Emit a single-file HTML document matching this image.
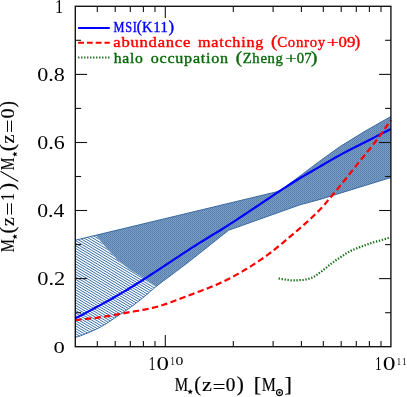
<!DOCTYPE html>
<html><head><meta charset="utf-8"><title>chart</title>
<style>html,body{margin:0;padding:0;background:#fff;}svg{display:block;will-change:transform;}</style></head>
<body><svg width="407" height="397" viewBox="0 0 407 397">
<defs>
<pattern id="d" width="2" height="2" patternUnits="userSpaceOnUse">
<rect width="2" height="2" fill="#557eae"/>
<rect x="1" y="1" width="1" height="1" fill="#6188b5"/>
<rect x="1" y="0" width="1" height="1" fill="#7fa0c5"/>
<rect x="0" y="1" width="1" height="1" fill="#7497bf"/>
</pattern>
</defs>
<rect width="407" height="397" fill="#fff"/>
<clipPath id="hc"><polygon points="75.3,240.2 95.6,235.3 107.2,248.9 117.5,260.1 129.6,269.6 141.6,276.8 155.8,286.8 155.8,286.8 153.2,289.0 150.6,291.2 148.0,293.4 145.4,295.6 142.8,297.8 140.2,300.0 137.6,302.0 135.0,304.0 132.4,305.9 129.8,307.8 127.2,309.6 124.6,311.3 122.0,313.1 119.4,314.8 116.8,316.6 114.2,318.3 111.7,320.1 109.1,321.8 106.5,323.5 103.9,325.1 101.3,326.6 98.7,328.0 96.1,329.2 93.5,330.5 90.9,331.6 88.3,332.8 85.7,333.8 83.1,334.8 80.5,335.8 77.9,336.6 75.3,337.4"/></clipPath>
<path d="M75.3 150.00 L175.0 209.82 M75.3 152.59 L175.0 212.41 M75.3 155.17 L175.0 214.99 M75.3 157.76 L175.0 217.58 M75.3 160.34 L175.0 220.16 M75.3 162.93 L175.0 222.75 M75.3 165.51 L175.0 225.33 M75.3 168.10 L175.0 227.92 M75.3 170.68 L175.0 230.50 M75.3 173.27 L175.0 233.09 M75.3 175.85 L175.0 235.67 M75.3 178.44 L175.0 238.26 M75.3 181.02 L175.0 240.84 M75.3 183.61 L175.0 243.43 M75.3 186.19 L175.0 246.01 M75.3 188.78 L175.0 248.60 M75.3 191.36 L175.0 251.18 M75.3 193.95 L175.0 253.77 M75.3 196.53 L175.0 256.35 M75.3 199.12 L175.0 258.94 M75.3 201.70 L175.0 261.52 M75.3 204.29 L175.0 264.11 M75.3 206.87 L175.0 266.69 M75.3 209.46 L175.0 269.28 M75.3 212.04 L175.0 271.86 M75.3 214.63 L175.0 274.45 M75.3 217.21 L175.0 277.03 M75.3 219.80 L175.0 279.62 M75.3 222.38 L175.0 282.20 M75.3 224.97 L175.0 284.79 M75.3 227.55 L175.0 287.37 M75.3 230.14 L175.0 289.96 M75.3 232.72 L175.0 292.54 M75.3 235.31 L175.0 295.13 M75.3 237.89 L175.0 297.71 M75.3 240.48 L175.0 300.30 M75.3 243.06 L175.0 302.88 M75.3 245.65 L175.0 305.47 M75.3 248.23 L175.0 308.05 M75.3 250.82 L175.0 310.64 M75.3 253.40 L175.0 313.22 M75.3 255.99 L175.0 315.81 M75.3 258.57 L175.0 318.39 M75.3 261.16 L175.0 320.98 M75.3 263.74 L175.0 323.56 M75.3 266.33 L175.0 326.15 M75.3 268.91 L175.0 328.73 M75.3 271.50 L175.0 331.32 M75.3 274.08 L175.0 333.90 M75.3 276.67 L175.0 336.49 M75.3 279.25 L175.0 339.07 M75.3 281.84 L175.0 341.66 M75.3 284.42 L175.0 344.24 M75.3 287.01 L175.0 346.83 M75.3 289.59 L175.0 349.41 M75.3 292.18 L175.0 352.00 M75.3 294.76 L175.0 354.58 M75.3 297.35 L175.0 357.17 M75.3 299.93 L175.0 359.75 M75.3 302.51 L175.0 362.33 M75.3 305.10 L175.0 364.92 M75.3 307.68 L175.0 367.50 M75.3 310.27 L175.0 370.09 M75.3 312.85 L175.0 372.67 M75.3 315.44 L175.0 375.26 M75.3 318.02 L175.0 377.84 M75.3 320.61 L175.0 380.43 M75.3 323.19 L175.0 383.01 M75.3 325.78 L175.0 385.60 M75.3 328.36 L175.0 388.18 M75.3 330.95 L175.0 390.77 M75.3 333.53 L175.0 393.35 M75.3 336.12 L175.0 395.94 M75.3 338.70 L175.0 398.52 M75.3 341.29 L175.0 401.11 M75.3 343.87 L175.0 403.69" clip-path="url(#hc)" stroke="#386fab" stroke-width="1.0" fill="none"/>
<polygon points="155.8,286.8 141.6,276.8 129.6,269.6 117.5,260.1 107.2,248.9 95.6,235.3 279.2,191.2 300.0,176.0 320.0,160.9 340.0,146.6 365.0,131.2 390.9,116.5 390.9,177.5 320.0,199.4 300.0,204.8 228.5,230.3 225.9,232.4 223.3,234.5 220.7,236.5 218.1,238.6 215.5,240.7 212.9,242.7 210.3,244.8 207.7,246.9 205.1,248.9 202.5,251.0 199.9,253.0 197.3,255.1 194.7,257.2 192.1,259.2 189.6,261.2 187.0,263.2 184.4,265.2 181.8,267.1 179.2,269.1 176.6,271.0 174.0,273.0 171.4,274.9 168.8,276.9 166.2,278.8 163.6,280.7 161.0,282.7 158.4,284.7" fill="url(#d)"/>
<path d="M75.3 240.2 L279.2 191.2 L300.0 176.0 L320.0 160.9 L340.0 146.6 L365.0 131.2 L390.9 116.5 M75.3 337.4 L77.9 336.6 L80.5 335.8 L83.1 334.8 L85.7 333.8 L88.3 332.8 L90.9 331.6 L93.5 330.5 L96.1 329.2 L98.7 328.0 L101.3 326.6 L103.9 325.1 L106.5 323.5 L109.1 321.8 L111.7 320.1 L114.2 318.3 L116.8 316.6 L119.4 314.8 L122.0 313.1 L124.6 311.3 L127.2 309.6 L129.8 307.8 L132.4 305.9 L135.0 304.0 L137.6 302.0 L140.2 300.0 L142.8 297.8 L145.4 295.6 L148.0 293.4 L150.6 291.2 L153.2 289.0 L155.8 286.8 L158.4 284.7 L161.0 282.7 L163.6 280.7 L166.2 278.8 L168.8 276.9 L171.4 274.9 L174.0 273.0 L176.6 271.0 L179.2 269.1 L181.8 267.1 L184.4 265.2 L187.0 263.2 L189.6 261.2 L192.1 259.2 L194.7 257.2 L197.3 255.1 L199.9 253.0 L202.5 251.0 L205.1 248.9 L207.7 246.9 L210.3 244.8 L212.9 242.7 L215.5 240.7 L218.1 238.6 L220.7 236.5 L223.3 234.5 L225.9 232.4 L228.5 230.3 L300.0 204.8 L320.0 199.4 L390.9 177.5" fill="none" stroke="#3a6aa3" stroke-width="1"/>
<path d="M75.3 318.4 L79.3 316.3 L83.3 314.2 L87.3 312.1 L91.3 309.9 L95.3 307.8 L99.3 305.6 L103.3 303.4 L107.3 301.2 L111.3 299.0 L115.2 296.7 L119.2 294.4 L123.2 292.1 L127.2 289.7 L131.2 287.2 L135.2 284.7 L139.2 282.2 L143.2 279.7 L147.2 277.1 L151.2 274.5 L155.2 271.9 L159.2 269.3 L163.2 266.7 L167.2 264.0 L171.2 261.4 L175.2 258.7 L179.2 256.1 L183.2 253.4 L187.2 250.8 L191.2 248.2 L195.1 245.7 L199.1 243.1 L203.1 240.7 L207.1 238.2 L211.1 235.8 L215.1 233.4 L219.1 231.0 L223.1 228.5 L227.1 225.9 L231.1 223.4 L235.1 220.8 L239.1 218.1 L243.1 215.5 L247.1 212.8 L251.1 210.2 L255.1 207.5 L259.1 204.8 L263.1 202.1 L267.1 199.5 L271.1 196.8 L275.0 194.1 L279.0 191.5 L283.0 188.9 L287.0 186.3 L291.0 183.8 L295.0 181.3 L299.0 178.8 L303.0 176.4 L307.0 174.0 L311.0 171.7 L315.0 169.4 L319.0 167.1 L323.0 164.8 L327.0 162.4 L331.0 160.1 L335.0 157.8 L339.0 155.6 L343.0 153.4 L347.0 151.3 L351.0 149.3 L354.9 147.3 L358.9 145.3 L362.9 143.3 L366.9 141.2 L370.9 139.2 L374.9 137.1 L378.9 135.1 L382.9 133.1 L386.9 131.0 L390.9 129.0" fill="none" stroke="#0000ff" stroke-width="2.2"/>
<path d="M75.3 320.0 L78.0 319.8 L80.6 319.5 L83.3 319.3 L85.9 319.0 L88.6 318.7 L91.2 318.4 L93.9 318.1 L96.5 317.8 L99.2 317.4 L101.8 317.0 L104.5 316.7 L107.1 316.2 L109.8 315.8 L112.4 315.3 L115.1 314.8 L117.7 314.3 L120.4 313.8 L123.0 313.4 L125.7 312.9 L128.3 312.4 L131.0 311.9 L133.6 311.5 L136.3 311.0 L139.0 310.6 L141.6 310.1 L144.3 309.6 L146.9 309.1 L149.6 308.5 L152.2 307.9 L154.9 307.3 L157.5 306.6 L160.2 305.8 L162.8 305.0 L165.5 304.1 L168.1 303.2 L170.8 302.3 L173.4 301.3 L176.1 300.3 L178.7 299.3 L181.4 298.2 L184.0 297.2 L186.7 296.2 L189.3 295.2 L192.0 294.2 L194.6 293.2 L197.3 292.2 L199.9 291.2 L202.6 290.2 L205.3 289.2 L207.9 288.2 L210.6 287.1 L213.2 286.0 L215.9 284.9 L218.5 283.7 L221.2 282.5 L223.8 281.3 L226.5 280.0 L229.1 278.7 L231.8 277.3 L234.4 275.9 L237.1 274.4 L239.7 272.9 L242.4 271.4 L245.0 269.8 L247.7 268.2 L250.3 266.6 L253.0 264.9 L255.6 263.2 L258.3 261.4 L260.9 259.7 L263.6 257.8 L266.3 255.9 L268.9 253.9 L271.6 251.9 L274.2 249.8 L276.9 247.6 L279.5 245.5 L282.2 243.3 L284.8 241.1 L287.5 238.8 L290.1 236.6 L292.8 234.3 L295.4 232.1 L298.1 229.8 L300.7 227.6 L303.4 225.2 L306.0 222.9 L308.7 220.5 L311.3 218.0 L314.0 215.5 L316.6 212.9 L319.3 210.2 L321.9 207.5 L324.6 204.5 L327.2 201.4 L329.9 198.2 L332.6 195.0 L335.2 191.8 L337.9 188.6 L340.5 185.3 L343.2 182.0 L345.8 178.7 L348.5 175.4 L351.1 172.1 L353.8 168.7 L356.4 165.4 L359.1 162.0 L361.7 158.7 L364.4 155.5 L367.0 152.2 L369.7 149.0 L372.3 145.6 L375.0 142.2 L377.6 138.8 L380.3 135.2 L382.9 131.5 L385.6 127.7 L388.2 123.8 L390.9 119.8" fill="none" stroke="#ff0000" stroke-width="2.2" stroke-dasharray="6.3 3.4"/>
<path d="M278.6 278.5 L279.7 278.7 L280.9 278.9 L282.0 279.1 L283.1 279.3 L284.3 279.5 L285.4 279.6 L286.5 279.8 L287.6 279.9 L288.8 280.0 L289.9 280.2 L291.0 280.3 L292.2 280.3 L293.3 280.4 L294.4 280.4 L295.6 280.4 L296.7 280.3 L297.8 280.3 L298.9 280.2 L300.1 280.1 L301.2 280.1 L302.3 280.0 L303.5 279.9 L304.6 279.7 L305.7 279.5 L306.9 279.3 L308.0 279.0 L309.1 278.7 L310.2 278.4 L311.4 278.0 L312.5 277.5 L313.6 276.9 L314.8 276.2 L315.9 275.4 L317.0 274.6 L318.2 273.8 L319.3 273.0 L320.4 272.2 L321.6 271.4 L322.7 270.5 L323.8 269.6 L324.9 268.7 L326.1 267.8 L327.2 266.8 L328.3 265.9 L329.5 265.0 L330.6 264.1 L331.7 263.3 L332.9 262.4 L334.0 261.6 L335.1 260.8 L336.2 260.0 L337.4 259.2 L338.5 258.5 L339.6 257.7 L340.8 257.0 L341.9 256.2 L343.0 255.5 L344.2 254.7 L345.3 254.0 L346.4 253.3 L347.5 252.6 L348.7 252.0 L349.8 251.4 L350.9 250.8 L352.1 250.2 L353.2 249.7 L354.3 249.3 L355.5 248.8 L356.6 248.4 L357.7 247.9 L358.9 247.5 L360.0 247.1 L361.1 246.7 L362.2 246.3 L363.4 245.8 L364.5 245.4 L365.6 245.0 L366.8 244.6 L367.9 244.2 L369.0 243.8 L370.2 243.4 L371.3 243.0 L372.4 242.6 L373.5 242.3 L374.7 242.0 L375.8 241.7 L376.9 241.4 L378.1 241.1 L379.2 240.8 L380.3 240.4 L381.5 240.1 L382.6 239.8 L383.7 239.4 L384.8 239.1 L386.0 238.7 L387.1 238.3 L388.2 238.0 L389.4 237.6 L390.5 237.2" fill="none" stroke="#0a6a0a" stroke-width="2.2" stroke-dasharray="1.3 1.7"/>
<g stroke="#151515" stroke-width="1.1"><line x1="97.3" y1="346.7" x2="97.3" y2="340.9"/><line x1="97.3" y1="6.3" x2="97.3" y2="12.1"/><line x1="115.2" y1="346.7" x2="115.2" y2="340.9"/><line x1="115.2" y1="6.3" x2="115.2" y2="12.1"/><line x1="130.3" y1="346.7" x2="130.3" y2="340.9"/><line x1="130.3" y1="6.3" x2="130.3" y2="12.1"/><line x1="143.4" y1="346.7" x2="143.4" y2="340.9"/><line x1="143.4" y1="6.3" x2="143.4" y2="12.1"/><line x1="155.0" y1="346.7" x2="155.0" y2="340.9"/><line x1="155.0" y1="6.3" x2="155.0" y2="12.1"/><line x1="165.3" y1="346.7" x2="165.3" y2="334.9"/><line x1="165.3" y1="6.3" x2="165.3" y2="18.1"/><line x1="233.3" y1="346.7" x2="233.3" y2="340.9"/><line x1="233.3" y1="6.3" x2="233.3" y2="12.1"/><line x1="273.1" y1="346.7" x2="273.1" y2="340.9"/><line x1="273.1" y1="6.3" x2="273.1" y2="12.1"/><line x1="301.4" y1="346.7" x2="301.4" y2="340.9"/><line x1="301.4" y1="6.3" x2="301.4" y2="12.1"/><line x1="323.3" y1="346.7" x2="323.3" y2="340.9"/><line x1="323.3" y1="6.3" x2="323.3" y2="12.1"/><line x1="341.2" y1="346.7" x2="341.2" y2="340.9"/><line x1="341.2" y1="6.3" x2="341.2" y2="12.1"/><line x1="356.3" y1="346.7" x2="356.3" y2="340.9"/><line x1="356.3" y1="6.3" x2="356.3" y2="12.1"/><line x1="369.4" y1="346.7" x2="369.4" y2="340.9"/><line x1="369.4" y1="6.3" x2="369.4" y2="12.1"/><line x1="381.0" y1="346.7" x2="381.0" y2="340.9"/><line x1="381.0" y1="6.3" x2="381.0" y2="12.1"/><line x1="75.3" y1="312.7" x2="81.1" y2="312.7"/><line x1="390.9" y1="312.7" x2="385.1" y2="312.7"/><line x1="75.3" y1="278.6" x2="87.1" y2="278.6"/><line x1="390.9" y1="278.6" x2="379.1" y2="278.6"/><line x1="75.3" y1="244.6" x2="81.1" y2="244.6"/><line x1="390.9" y1="244.6" x2="385.1" y2="244.6"/><line x1="75.3" y1="210.5" x2="87.1" y2="210.5"/><line x1="390.9" y1="210.5" x2="379.1" y2="210.5"/><line x1="75.3" y1="176.5" x2="81.1" y2="176.5"/><line x1="390.9" y1="176.5" x2="385.1" y2="176.5"/><line x1="75.3" y1="142.5" x2="87.1" y2="142.5"/><line x1="390.9" y1="142.5" x2="379.1" y2="142.5"/><line x1="75.3" y1="108.4" x2="81.1" y2="108.4"/><line x1="390.9" y1="108.4" x2="385.1" y2="108.4"/><line x1="75.3" y1="74.4" x2="87.1" y2="74.4"/><line x1="390.9" y1="74.4" x2="379.1" y2="74.4"/><line x1="75.3" y1="40.3" x2="81.1" y2="40.3"/><line x1="390.9" y1="40.3" x2="385.1" y2="40.3"/></g>
<rect x="75.3" y="6.3" width="315.6" height="340.4" fill="none" stroke="#151515" stroke-width="1.4"/>
<line x1="78.1" y1="28" x2="109.8" y2="28" stroke="#0000ff" stroke-width="2"/>
<line x1="78.1" y1="42.8" x2="109.8" y2="42.8" stroke="#ff0000" stroke-width="2" stroke-dasharray="5.9 2.9"/>
<line x1="78.1" y1="57.5" x2="109.8" y2="57.5" stroke="#0a6a0a" stroke-width="2" stroke-dasharray="1.3 1.7"/>
<g opacity="0.999" font-family="Liberation Serif, serif" stroke-width="0.4" stroke-linejoin="round">
<text transform="matrix(0.8211 0 0 0.9862 113.56 32.30)" font-size="15" letter-spacing="0.9" fill="#0000ff" stroke="#0000ff">MSI</text>
<text transform="matrix(1.0097 0 0 1.0935 136.86 32.30)" font-size="15" fill="#0000ff" stroke="#0000ff">(</text>
<text transform="matrix(0.9776 0 0 0.9899 142.00 32.30)" font-size="15" letter-spacing="0.6" fill="#0000ff" stroke="#0000ff">K11</text>
<text transform="matrix(1.1133 0 0 1.0935 168.46 32.30)" font-size="15" fill="#0000ff" stroke="#0000ff">)</text>
<text transform="matrix(1.1046 0 0 0.9400 113.32 47.40)" font-size="15" letter-spacing="0.7" fill="#ff0000" stroke="#ff0000">abundance</text>
<text transform="matrix(1.0742 0 0 0.9400 198.08 47.40)" font-size="15" letter-spacing="0.7" fill="#ff0000" stroke="#ff0000">matching</text>
<text transform="matrix(1.2686 0 0 1.0935 271.09 47.40)" font-size="15" fill="#ff0000" stroke="#ff0000">(</text>
<text transform="matrix(0.9903 0 0 1.0000 277.21 47.40)" font-size="15" letter-spacing="0.7" fill="#ff0000" stroke="#ff0000">Conroy</text>
<text transform="matrix(1.4050 0 0 1.0000 326.65 47.40)" font-size="15" fill="#ff0000" stroke="#ff0000">+</text>
<text transform="matrix(1.1201 0 0 0.9825 338.57 47.40)" font-size="15" fill="#ff0000" stroke="#ff0000">09</text>
<text transform="matrix(1.0874 0 0 1.0935 354.87 47.40)" font-size="15" fill="#ff0000" stroke="#ff0000">)</text>
<text transform="matrix(1.0468 0 0 1.0072 113.74 62.80)" font-size="15" letter-spacing="0.7" fill="#0a6a0a" stroke="#0a6a0a">halo</text>
<text transform="matrix(1.0740 0 0 1.0000 150.70 62.80)" font-size="15" letter-spacing="0.7" fill="#0a6a0a" stroke="#0a6a0a">occupation</text>
<text transform="matrix(1.2686 0 0 1.0935 235.69 62.80)" font-size="15" fill="#0a6a0a" stroke="#0a6a0a">(</text>
<text transform="matrix(0.9797 0 0 1.0072 242.70 62.80)" font-size="15" letter-spacing="0.7" fill="#0a6a0a" stroke="#0a6a0a">Zheng</text>
<text transform="matrix(1.3047 0 0 1.0000 285.62 62.80)" font-size="15" fill="#0a6a0a" stroke="#0a6a0a">+</text>
<text transform="matrix(0.9840 0 0 0.9825 296.85 62.80)" font-size="15" fill="#0a6a0a" stroke="#0a6a0a">07</text>
<text transform="matrix(1.2686 0 0 1.0935 311.08 62.80)" font-size="15" fill="#0a6a0a" stroke="#0a6a0a">)</text>
</g>
<g opacity="0.999" font-family="Liberation Serif, serif" fill="#000">
<text transform="matrix(0.9141 0 0 1.0185 54.96 12.70)" font-size="18">1</text>
<text transform="matrix(1.2293 0 0 1.0526 37.17 81.08)" font-size="18">0.8</text>
<text transform="matrix(1.2215 0 0 1.0526 37.18 149.16)" font-size="18">0.6</text>
<text transform="matrix(1.2062 0 0 1.0526 37.19 217.24)" font-size="18">0.4</text>
<text transform="matrix(1.2479 0 0 1.0526 37.16 285.32)" font-size="18">0.2</text>
<text transform="matrix(1.2549 0 0 0.9858 53.55 353.30)" font-size="18">0</text>
<text transform="matrix(0.7407 0 0 1.0354 148.83 369.80)" font-size="18">1</text>
<text transform="matrix(1.3856 0 0 1.0276 156.46 369.80)" font-size="18">0</text>
<text transform="matrix(0.7401 0 0 1.0145 170.56 364.80)" font-size="11.5">1</text>
<text transform="matrix(1.3708 0 0 1.0069 175.51 364.80)" font-size="11.5">0</text>
<text transform="matrix(0.7407 0 0 1.0354 375.03 369.80)" font-size="18">1</text>
<text transform="matrix(1.4248 0 0 1.0276 382.64 369.80)" font-size="18">0</text>
<text transform="matrix(0.7401 0 0 0.9618 396.66 364.70)" font-size="11.5">1</text>
<text transform="matrix(0.7401 0 0 0.9618 402.26 364.70)" font-size="11.5">1</text>
</g>
<g opacity="0.999" font-family="Liberation Serif, serif" fill="#000" stroke="#000" stroke-width="0.2">
<text transform="matrix(0.8342 0 0 1.0178 174.69 391.20)" font-size="18">M</text>
<polygon points="190.2,389.3 190.9,390.8 192.6,391.0 191.4,392.2 191.7,393.8 190.2,393.1 188.7,393.8 189.0,392.2 187.8,391.0 189.5,390.8" fill="#000"/>
<text transform="matrix(1.1219 0 0 1.1271 194.34 391.20)" font-size="18">(</text>
<text transform="matrix(1.2330 0 0 1.0024 202.09 391.20)" font-size="18">z</text>
<text transform="matrix(1.2425 0 0 1.0000 212.78 392.50)" font-size="18">=</text>
<text transform="matrix(1.0719 0 0 1.0192 225.68 391.20)" font-size="18">0</text>
<text transform="matrix(1.1866 0 0 1.1271 236.81 391.20)" font-size="18">)</text>
<text transform="matrix(1.2484 0 0 1.1671 253.71 391.20)" font-size="18">[</text>
<text transform="matrix(0.8809 0 0 1.0178 261.76 391.20)" font-size="18">M</text>
<circle cx="279.5" cy="392.6" r="3.0" fill="none" stroke="#000" stroke-width="1.1"/><circle cx="279.5" cy="392.6" r="1.1" fill="#000"/>
<text transform="matrix(1.2346 0 0 1.1671 284.62 391.20)" font-size="18">]</text>
<g transform="translate(14,252) rotate(-90)">
<text transform="matrix(0.8208 0 0 1.0093 -0.21 0.00)" font-size="18">M</text>
<polygon points="15.3,-1.6 16.0,-0.1 17.7,0.1 16.5,1.3 16.8,2.9 15.3,2.1 13.8,2.9 14.1,1.3 12.9,0.1 14.6,-0.1" fill="#000"/>
<text transform="matrix(1.1435 0 0 1.1191 18.53 0.00)" font-size="18">(</text>
<text transform="matrix(1.0896 0 0 0.9903 25.96 0.00)" font-size="18">z</text>
<text transform="matrix(1.2903 0 0 1.0000 36.44 1.60)" font-size="18">=</text>
<text transform="matrix(0.8668 0 0 1.0101 51.33 0.00)" font-size="18">1</text>
<text transform="matrix(1.2298 0 0 1.1191 61.68 0.00)" font-size="18">)</text>
<line x1="70.6" y1="4.2" x2="80.7" y2="-13.6" stroke="#000" stroke-width="1.1"/>
<text transform="matrix(0.7941 0 0 1.0093 81.71 0.00)" font-size="18">M</text>
<polygon points="97.8,-1.6 98.5,-0.1 100.2,0.1 99.0,1.3 99.3,2.9 97.8,2.1 96.3,2.9 96.6,1.3 95.4,0.1 97.1,-0.1" fill="#000"/>
<text transform="matrix(1.2298 0 0 1.1191 100.86 0.00)" font-size="18">(</text>
<text transform="matrix(1.1326 0 0 0.9903 108.54 0.00)" font-size="18">z</text>
<text transform="matrix(1.3142 0 0 1.0000 119.12 1.60)" font-size="18">=</text>
<text transform="matrix(1.1242 0 0 1.0025 133.54 0.00)" font-size="18">0</text>
<text transform="matrix(1.0140 0 0 1.1191 144.81 0.00)" font-size="18">)</text>
</g>
</g>
</svg></body></html>
